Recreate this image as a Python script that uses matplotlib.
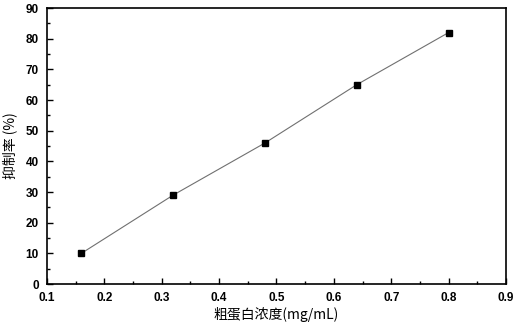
import matplotlib
matplotlib.use('Agg')
import matplotlib.pyplot as plt
from matplotlib.ticker import MultipleLocator

plt.rcParams['font.family'] = ['Noto Sans CJK SC', 'DejaVu Sans']

# data
conc = [0.16, 0.32, 0.48, 0.64, 0.80]
inhibition = [10, 29, 46, 65, 82]
xticks = [0.1, 0.2, 0.3, 0.4, 0.5, 0.6, 0.7, 0.8, 0.9]
xtick_labels = ['0.1', '0.2', '0.3', '0.4', '0.5', '0.6', '0.7', '0.8', '0.9']

fig = plt.figure(figsize=(5.18, 3.22), dpi=100)
ax = fig.add_axes([0.0907, 0.118, 0.886, 0.857])

ax.plot(conc, inhibition, color='#707070', lw=0.8, zorder=1)
ax.plot(conc, inhibition, ls='none', marker='s', ms=5, color='black', zorder=2)

ax.set_xlim(0.1, 0.9)
ax.set_ylim(0, 90)
ax.set_xticks(xticks)
ax.set_xticklabels(xtick_labels, family='Liberation Sans', fontweight='bold', fontsize=8.5)
ax.xaxis.set_minor_locator(MultipleLocator(0.05))
ax.yaxis.set_major_locator(MultipleLocator(10))
ax.yaxis.set_minor_locator(MultipleLocator(5))
for lab in ax.get_yticklabels():
    lab.set_family('Liberation Sans')
    lab.set_fontweight('bold')
    lab.set_fontsize(8.5)
ax.tick_params(which='both', direction='in', top=False, right=False)
ax.tick_params(which='major', length=4, width=1)
ax.tick_params(which='minor', length=2, width=1)
ax.tick_params(axis='x', which='major', pad=6)
ax.tick_params(axis='y', which='major', pad=6)
for s in ax.spines.values():
    s.set_linewidth(1.2)

ax.set_xlabel('粗蛋白浓度(mg/mL)', fontsize=10, labelpad=2)
ax.set_ylabel('抑制率 (%)', fontsize=10, labelpad=6)

fig.savefig('out.png', dpi=100)
